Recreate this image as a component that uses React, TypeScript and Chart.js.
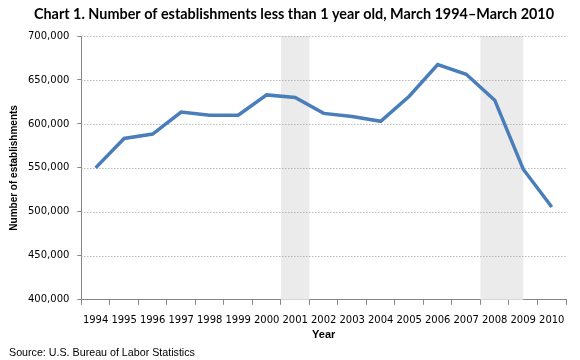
import React, { useEffect, useRef } from "react";
import { Chart, registerables } from "chart.js";

Chart.register(...registerables);

const years = ["1994","1995","1996","1997","1998","1999","2000","2001","2002","2003","2004","2005","2006","2007","2008","2009","2010"];
const establishments = [550000, 583500, 588500, 613500, 610000, 610000, 633000, 630000, 612000, 608500, 603000, 631500, 667500, 656500, 627000, 548500, 505500];
// recession shading: start category, end category, fraction of end category covered
const recessionStart = ["2001", "2008"];
const recessionEnd = ["2001", "2009"];
const recessionEndFraction = [1, 0.5];
const yMin = 400000;
const yMax = 700000;
const yStep = 50000;

const titleText = "Chart 1. Number of establishments less than 1 year old, March 1994\u2013March 2010";
const sourceText = "Source: U.S. Bureau of Labor Statistics";

const tickFont = { family: "'DejaVu Sans', sans-serif", size: 10 };

export default function App() {
  const ref = useRef<HTMLCanvasElement | null>(null);
  useEffect(() => {
    if (!ref.current) return;
    const overlay = {
      id: "overlay",
      beforeDatasetsDraw(chart: any) {
        const { ctx, chartArea, scales } = chart;
        const x = scales.x;
        const y = scales.y;
        const w = x.getPixelForValue(1) - x.getPixelForValue(0);
        ctx.save();
        ctx.fillStyle = "#ebebeb";
        for (let i = 0; i < recessionStart.length; i++) {
          const s = years.indexOf(recessionStart[i]);
          const e = years.indexOf(recessionEnd[i]);
          const x0 = x.getPixelForValue(s) - w / 2;
          const x1 = x.getPixelForValue(e) - w / 2 + w * recessionEndFraction[i];
          ctx.fillRect(x0, chartArea.top, x1 - x0, chartArea.bottom - chartArea.top);
        }
        ctx.strokeStyle = "#9a9a9a";
        ctx.lineWidth = 1;
        ctx.setLineDash([1, 2]);
        for (let v = yMin + yStep; v <= yMax; v += yStep) {
          const py = Math.round(y.getPixelForValue(v)) + 0.5;
          ctx.beginPath();
          ctx.moveTo(chartArea.left, py);
          ctx.lineTo(chartArea.right, py);
          ctx.stroke();
        }
        ctx.restore();
      },
      afterDraw(chart: any) {
        const { ctx } = chart;
        ctx.save();
        ctx.fillStyle = "#000";
        ctx.textBaseline = "middle";
        ctx.textAlign = "center";
        ctx.font = "bold 14.4px Lato, sans-serif";
        ctx.fillText(titleText, 294, 14);
        ctx.textAlign = "left";
        ctx.font = "10.7px 'Liberation Sans', sans-serif";
        ctx.fillText(sourceText, 9, 353);
        ctx.restore();
      },
    };
    const chart = new Chart(ref.current, {
      type: "line",
      data: {
        labels: years,
        datasets: [
          {
            data: establishments,
            borderColor: "#4a7ebb",
            borderWidth: 3.5,
            pointRadius: 0,
            tension: 0,
            fill: false,
          },
        ],
      },
      options: {
        animation: false,
        responsive: false,
        maintainAspectRatio: false,
        layout: { padding: { top: 36, right: 14, bottom: 18, left: 8 } },
        plugins: { legend: { display: false }, tooltip: { enabled: false }, title: { display: false } },
        scales: {
          x: {
            offset: true,
            grid: { display: true, drawOnChartArea: false, drawTicks: true, tickLength: 5, offset: true, color: "#868686" },
            border: { display: true, color: "#868686", width: 1 },
            ticks: { color: "#000", font: tickFont, padding: 10, maxRotation: 0, autoSkip: false },
            title: { display: true, text: "Year", color: "#000", font: { family: "'Liberation Sans', sans-serif", size: 11, weight: "bold" }, padding: { top: -8, bottom: 0 } },
          },
          y: {
            min: yMin,
            max: yMax,
            grid: { display: true, drawOnChartArea: false, drawTicks: true, tickLength: 4, color: "#868686" },
            border: { display: true, color: "#868686", width: 1 },
            ticks: {
              stepSize: yStep,
              color: "#000",
              font: tickFont,
              padding: 8,
              callback: (v: any) => Number(v).toLocaleString("en-US"),
            },
            title: { display: true, text: "Number of establishments", color: "#000", font: { family: "'Liberation Sans', sans-serif", size: 10, weight: "bold" }, padding: { top: 0, bottom: 0 } },
          },
        },
      },
      plugins: [overlay],
    });
    return () => chart.destroy();
  }, []);
  return (
    <div style={{ position: "absolute", left: 0, top: 0, width: 580, height: 360, background: "#fff" }}>
      <canvas ref={ref} width={580} height={360} style={{ width: 580, height: 360 }} />
    </div>
  );
}
